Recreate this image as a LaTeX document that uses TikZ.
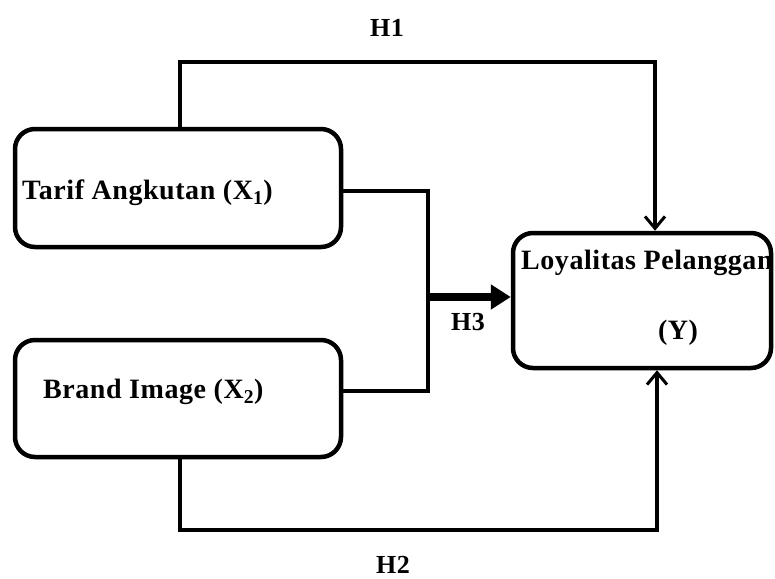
\documentclass[tikz,border=0pt]{standalone}
\usepackage{fontspec}
\setmainfont{Liberation Serif}[LetterSpace=2]
\usetikzlibrary{arrows.meta}
\begin{document}
\begin{tikzpicture}[x=1pt,y=-1pt,
  box/.style={draw,line width=4.5pt,rounded corners=20pt,inner sep=0pt},
  txt/.style={font=\fontsize{28}{32}\selectfont\bfseries,inner sep=0pt},
  lbl/.style={font=\fontsize{26}{30}\selectfont\bfseries,inner sep=0pt},
  conn/.style={line width=4.5pt},
  openarrow/.style={conn,-{Straight Barb[length=12pt,width=20pt,line width=3pt]}},
  thickarrow/.style={line width=8pt,-{Triangle[length=20pt,width=24pt]}}]
\useasboundingbox (0,0) rectangle (775,578);
% boxes
\node[box,minimum width=326pt,minimum height=118pt] (x1) at (178,188) {};
\node[box,minimum width=326pt,minimum height=117pt] (x2) at (178,398.5) {};
\node[box,minimum width=258pt,minimum height=135pt] (y) at (642,300.5) {};
% texts
\node[txt,anchor=west] (tx1) at (22,193) {Tarif Angkutan (X\textsubscript{1})};
\node[txt,anchor=west] (tx2) at (43,392) {Brand Image (X\textsubscript{2})};
\node[txt,anchor=west] (ty1) at (521,263) {Loyalitas Pelanggan};
\node[txt] (ty2) at (678,333) {(Y)};
\node[lbl] (h1) at (387,28) {H1};
\node[lbl] (h2) at (393,565) {H2};
\node[lbl] (h3) at (468,322) {H3};
% coordinates
\coordinate (t1) at (180,62);
\coordinate (b2) at (180,530);
\coordinate (j) at (428,297);
% H1
\draw[openarrow] ([xshift=2pt]x1.north) |- (t1) -| ([xshift=13pt]y.north);
% H2
\draw[openarrow] ([xshift=2pt]x2.south) |- (b2) -| ([xshift=15pt]y.south);
% H3 merge
\draw[conn,line join=miter] ([yshift=-3pt]x1.east) -| (j) |- ([yshift=7.5pt]x2.east);
\draw[thickarrow] (j) -- (j -| y.west);
\end{tikzpicture}
\end{document}
